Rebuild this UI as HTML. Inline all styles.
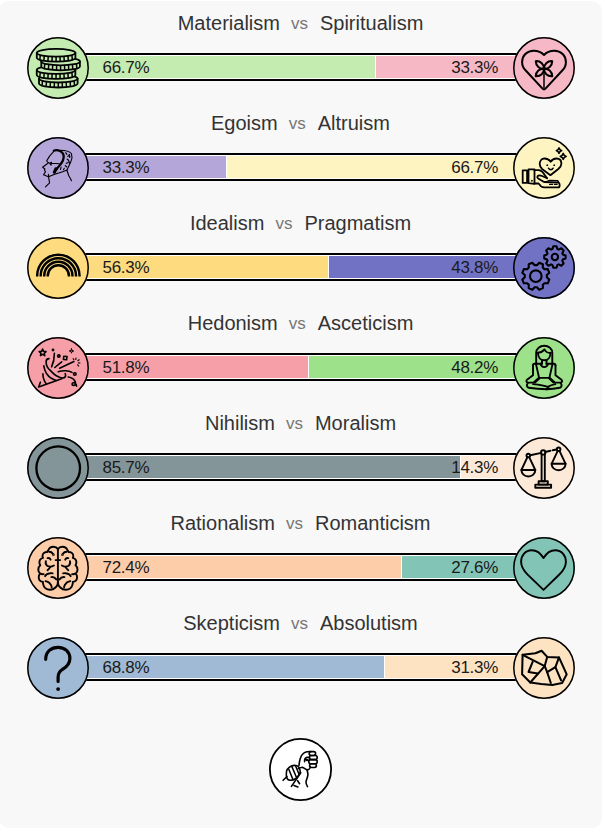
<!DOCTYPE html><html><head><meta charset="utf-8"><style>
*{box-sizing:border-box}
html,body{margin:0;padding:0;background:#fff;width:605px;height:835px;overflow:hidden}
body{font-family:"Liberation Sans",sans-serif;position:relative}
.card{position:absolute;left:-1px;top:1px;width:603px;height:827px;border-radius:10px;background:#f8f8f8}
.t{position:absolute;left:0;width:601px;text-align:center;font-size:20px;line-height:20px;color:#333;white-space:nowrap}
.t .vs{font-size:17px;color:#777;margin:0 12px 0 11px;position:relative;top:-1px}
.bar{position:absolute;left:74px;width:453px;height:28px;border:2px solid #000;background:#fff;padding:1px}
.seg{position:absolute;top:1px;height:22px}
.pl{position:absolute;font-size:17px;line-height:17px;color:#1a1a1a;letter-spacing:-0.3px}
.c{position:absolute;width:62px;height:62px;border-radius:50%}
.c svg{position:absolute;left:0;top:0;overflow:visible}
.ring{position:absolute;left:0;top:0}
</style></head><body><div class="card"></div><div class="t" style="top:13px">Materialism<span class="vs">vs</span>Spiritualism</div>
<div class="bar" style="top:53px"><div class="seg" style="left:1px;width:298px;background:#c4ecb0"></div><div class="seg" style="left:300px;right:1px;background:#f6b8c5"></div></div>
<div class="pl" style="left:102.5px;top:59px">66.7%</div>
<div class="pl" style="right:107px;top:59px">33.3%</div>
<div class="c" style="left:27px;top:37px;background:#c4ecb0"><svg class="ring" width="62" height="62"><circle cx="31" cy="31" r="30.2" fill="none" stroke="#000" stroke-width="1.5"/></svg><svg viewBox="0 0 62 62" width="62" height="62" fill="none" stroke="#000" stroke-width="1.8" stroke-linecap="round" stroke-linejoin="round"><g transform="translate(-0.7,0.2)"><path d="M12.7,41.4 A19.3,3.9 0 0 1 51.3,41.4 L51.3,46.4 A19.3,3.9 0 0 1 12.7,46.4 Z" fill="#c4ecb0"/><path d="M12.7,41.4 A19.3,3.9 0 0 0 51.3,41.4"/><line x1="16.20" y1="43.64" x2="15.72" y2="48.64" stroke-width="1.5" stroke-linecap="butt"/><line x1="20.15" y1="44.48" x2="19.79" y2="49.48" stroke-width="1.5" stroke-linecap="butt"/><line x1="24.10" y1="44.96" x2="23.86" y2="49.96" stroke-width="1.5" stroke-linecap="butt"/><line x1="28.05" y1="45.22" x2="27.93" y2="50.22" stroke-width="1.5" stroke-linecap="butt"/><line x1="32.00" y1="45.30" x2="32.00" y2="50.30" stroke-width="1.5" stroke-linecap="butt"/><line x1="35.95" y1="45.22" x2="36.07" y2="50.22" stroke-width="1.5" stroke-linecap="butt"/><line x1="39.90" y1="44.96" x2="40.14" y2="49.96" stroke-width="1.5" stroke-linecap="butt"/><line x1="43.85" y1="44.48" x2="44.21" y2="49.48" stroke-width="1.5" stroke-linecap="butt"/><line x1="47.80" y1="43.64" x2="48.28" y2="48.64" stroke-width="1.5" stroke-linecap="butt"/><path d="M10.45,32.8 A19.3,3.9 0 0 1 49.05,32.8 L49.05,37.8 A19.3,3.9 0 0 1 10.45,37.8 Z" fill="#c4ecb0"/><path d="M10.45,32.8 A19.3,3.9 0 0 0 49.05,32.8"/><line x1="13.95" y1="35.04" x2="13.47" y2="40.04" stroke-width="1.5" stroke-linecap="butt"/><line x1="17.90" y1="35.88" x2="17.54" y2="40.88" stroke-width="1.5" stroke-linecap="butt"/><line x1="21.85" y1="36.36" x2="21.61" y2="41.36" stroke-width="1.5" stroke-linecap="butt"/><line x1="25.80" y1="36.62" x2="25.68" y2="41.62" stroke-width="1.5" stroke-linecap="butt"/><line x1="29.75" y1="36.70" x2="29.75" y2="41.70" stroke-width="1.5" stroke-linecap="butt"/><line x1="33.70" y1="36.62" x2="33.82" y2="41.62" stroke-width="1.5" stroke-linecap="butt"/><line x1="37.65" y1="36.36" x2="37.89" y2="41.36" stroke-width="1.5" stroke-linecap="butt"/><line x1="41.60" y1="35.88" x2="41.96" y2="40.88" stroke-width="1.5" stroke-linecap="butt"/><line x1="45.55" y1="35.04" x2="46.03" y2="40.04" stroke-width="1.5" stroke-linecap="butt"/><path d="M14.999999999999996,24.2 A19.3,3.9 0 0 1 53.599999999999994,24.2 L53.599999999999994,29.2 A19.3,3.9 0 0 1 14.999999999999996,29.2 Z" fill="#c4ecb0"/><path d="M14.999999999999996,24.2 A19.3,3.9 0 0 0 53.599999999999994,24.2"/><line x1="18.50" y1="26.44" x2="18.02" y2="31.44" stroke-width="1.5" stroke-linecap="butt"/><line x1="22.45" y1="27.28" x2="22.09" y2="32.28" stroke-width="1.5" stroke-linecap="butt"/><line x1="26.40" y1="27.76" x2="26.16" y2="32.76" stroke-width="1.5" stroke-linecap="butt"/><line x1="30.35" y1="28.02" x2="30.23" y2="33.02" stroke-width="1.5" stroke-linecap="butt"/><line x1="34.30" y1="28.10" x2="34.30" y2="33.10" stroke-width="1.5" stroke-linecap="butt"/><line x1="38.25" y1="28.02" x2="38.37" y2="33.02" stroke-width="1.5" stroke-linecap="butt"/><line x1="42.20" y1="27.76" x2="42.44" y2="32.76" stroke-width="1.5" stroke-linecap="butt"/><line x1="46.15" y1="27.28" x2="46.51" y2="32.28" stroke-width="1.5" stroke-linecap="butt"/><line x1="50.10" y1="26.44" x2="50.58" y2="31.44" stroke-width="1.5" stroke-linecap="butt"/><path d="M10.5,15.6 A19.3,3.9 0 0 1 49.1,15.6 L49.1,20.6 A19.3,3.9 0 0 1 10.5,20.6 Z" fill="#c4ecb0"/><path d="M10.5,15.6 A19.3,3.9 0 0 0 49.1,15.6"/><line x1="14.00" y1="17.84" x2="13.52" y2="22.84" stroke-width="1.5" stroke-linecap="butt"/><line x1="17.95" y1="18.68" x2="17.59" y2="23.68" stroke-width="1.5" stroke-linecap="butt"/><line x1="21.90" y1="19.16" x2="21.66" y2="24.16" stroke-width="1.5" stroke-linecap="butt"/><line x1="25.85" y1="19.42" x2="25.73" y2="24.42" stroke-width="1.5" stroke-linecap="butt"/><line x1="29.80" y1="19.50" x2="29.80" y2="24.50" stroke-width="1.5" stroke-linecap="butt"/><line x1="33.75" y1="19.42" x2="33.87" y2="24.42" stroke-width="1.5" stroke-linecap="butt"/><line x1="37.70" y1="19.16" x2="37.94" y2="24.16" stroke-width="1.5" stroke-linecap="butt"/><line x1="41.65" y1="18.68" x2="42.01" y2="23.68" stroke-width="1.5" stroke-linecap="butt"/><line x1="45.60" y1="17.84" x2="46.08" y2="22.84" stroke-width="1.5" stroke-linecap="butt"/></g></svg></div>
<div class="c" style="left:512.5px;top:37px;background:#f6b8c5"><svg class="ring" width="62" height="62"><circle cx="31" cy="31" r="30.2" fill="none" stroke="#000" stroke-width="1.5"/></svg><svg viewBox="0 0 62 62" width="62" height="62" fill="none" stroke="#000" stroke-width="2" stroke-linecap="round" stroke-linejoin="round"><g transform="translate(0.3,0.4)"><path d="M30.7,17.6 C28,14.6 24.5,13.4 20.3,13.4 C13.6,13.4 8.8,18.3 8.8,24.5 C8.8,28 10.1,30.8 12.2,32.9 L29.2,51.2 Q30.7,52.8 32.2,51.2 L49.2,32.9 C51.3,30.8 52.6,28 52.6,24.5 C52.6,18.3 47.8,13.4 41.1,13.4 C36.9,13.4 33.4,14.6 30.7,17.6 Z"/><path d="M0,0 C2.8,-3.2 7.8,-3.6 11.2,0 C7.8,3.6 2.8,3.2 0,0 Z" transform="translate(30.7,31.3) rotate(-137.5)"/><path d="M0,0 C2.8,-3.2 7.8,-3.6 11.2,0 C7.8,3.6 2.8,3.2 0,0 Z" transform="translate(30.7,31.3) rotate(-42.5)"/><path d="M0,0 C2.8,-3.2 7.8,-3.6 11.2,0 C7.8,3.6 2.8,3.2 0,0 Z" transform="translate(30.7,31.3) rotate(42.5)"/><path d="M0,0 C2.8,-3.2 7.8,-3.6 11.2,0 C7.8,3.6 2.8,3.2 0,0 Z" transform="translate(30.7,31.3) rotate(137.5)"/><line x1="30.7" y1="31.3" x2="30.7" y2="50.5" stroke-width="1.5"/></g></svg></div>
<div class="t" style="top:113px">Egoism<span class="vs">vs</span>Altruism</div>
<div class="bar" style="top:153px"><div class="seg" style="left:1px;width:149px;background:#b4a6d9"></div><div class="seg" style="left:151px;right:1px;background:#fdf4c1"></div></div>
<div class="pl" style="left:102.5px;top:159px">33.3%</div>
<div class="pl" style="right:107px;top:159px">66.7%</div>
<div class="c" style="left:27px;top:137px;background:#b4a6d9"><svg class="ring" width="62" height="62"><circle cx="31" cy="31" r="30.2" fill="none" stroke="#000" stroke-width="1.5"/></svg><svg viewBox="0 0 62 62" width="62" height="62" fill="none" stroke="#000" stroke-width="2" stroke-linecap="round" stroke-linejoin="round"><g transform="translate(0.3,0.25)"><g stroke-width="1.1"><path d="M26.3,14.4 C23.5,17 21,20.5 19.4,23.6 L20.5,25" /><path d="M21.6,25.3 L15.3,30 L17.6,31.7 L17.2,33 L18.2,34.6 L16.2,37.5 L21.1,39.5 L27.5,36.9 C31,36 35,34.5 39.6,33"/><path d="M22.3,26 L24.2,25 L23.8,28 Z M24.2,26 L32.1,26.5"/><path d="M21.1,37 L21.7,42.7 L22.3,45.6 L18.2,49.6"/><path d="M33,13 C37,13 42,14 44.2,16.5 C45,19 44.5,22.5 43.5,24.5 C42.5,27 41.5,29 40.5,31 L39.6,33"/><path d="M39.6,33 C40.3,35 41,37 41.5,38.5 C42.5,40 43.5,42 44.2,43.5"/><path d="M33.8,29.8 L33.2,32.3 M37,31 L36.2,32.5"/><path d="M38.5,15.5 L39.5,17 M40.5,19 L41.5,18.5 M40,22 L41.2,23 M39,26 L40.5,25.5 M38,28.5 L39.3,29.5 M42,17.5 L42.5,20 M41.5,24 L42.3,26" stroke-width="1.3"/></g><path d="M26.5,13.5 C29,12.3 33,13 35,15.5 C36.8,17.5 36.5,21 35.5,23.5 C34.5,26 32,28.5 30,31 C29,32.5 28.2,33.5 27.6,34.6" stroke-width="2.3"/><path d="M28.5,31.5 L27,35" stroke-width="3"/></g></svg></div>
<div class="c" style="left:512.5px;top:137px;background:#fdf4c1"><svg class="ring" width="62" height="62"><circle cx="31" cy="31" r="30.2" fill="none" stroke="#000" stroke-width="1.5"/></svg><svg viewBox="0 0 62 62" width="62" height="62" fill="none" stroke="#000" stroke-width="2" stroke-linecap="round" stroke-linejoin="round"><g transform="translate(0.1,0.2)"><rect x="9.6" y="33.1" width="4.4" height="12.6" stroke-width="1.8"/><path d="M15.4,46 L15.4,32.2 L21.4,32.2 L21.4,46.6 Z" stroke-width="1.8"/><circle cx="18.7" cy="43.6" r="0.5" fill="#000" stroke-width="0.8"/><path d="M21.4,33 L26,33 C28.5,33.3 30,35 31.5,37.5 L34,41" stroke-width="1.8"/><path d="M34,41 L29,38.8 C27.5,38.2 25.5,37.8 24.5,39 C23.8,40 24.5,41 25.5,41.6 L30.5,44.5" stroke-width="1.8"/><path d="M21.4,46.3 L25.5,46.3 L28,49.2 C29,50 30,50.2 31.5,50.2 L45,50.2 C46,50.2 46.5,49.5 46.5,48.5 L46.5,47 C46.5,46 46,45.4 45,45.4 L31.5,44.8" stroke-width="1.8"/><path d="M32.5,44.9 L36.5,43.2 L44.5,43.5 L45.5,45.2" stroke-width="1.5"/><path d="M36.5,47.2 L39.5,47.2 M41.5,47.2 L44,47.2" stroke-width="1.3"/><path d="M37.6,24.6 C36,22.3 34,21.3 31.4,21.3 C28.2,21.3 26.6,24.2 26.6,26.8 C26.6,29 27.7,30.6 29,31.8 L37.3,38 L45.2,31.8 C46.9,30.3 48.3,29 48.3,26.6 C48.3,23.6 46.5,21.3 43.4,21.3 C40.8,21.3 39,22.3 37.6,24.6 Z" stroke-width="1.8"/><circle cx="34" cy="28" r="0.45" fill="#000" stroke-width="1"/><circle cx="41" cy="28" r="0.45" fill="#000" stroke-width="1"/><path d="M35.3,31 C36.5,33 39,33 40,31" stroke-width="1.5"/><path d="M45.9,10.7 L46.845,12.455 L48.6,13.4 L46.845,14.345 L45.9,16.1 L44.955,14.345 L43.199999999999996,13.4 L44.955,12.455 Z" stroke-width="1.6"/><path d="M50.1,16.2 L51.15,18.15 L53.1,19.2 L51.15,20.25 L50.1,22.2 L49.050000000000004,20.25 L47.1,19.2 L49.050000000000004,18.15 Z" stroke-width="1.6"/></g></svg></div>
<div class="t" style="top:213px">Idealism<span class="vs">vs</span>Pragmatism</div>
<div class="bar" style="top:253px"><div class="seg" style="left:1px;width:251px;background:#fddb7e"></div><div class="seg" style="left:253px;right:1px;background:#7272c5"></div></div>
<div class="pl" style="left:102.5px;top:259px">56.3%</div>
<div class="pl" style="right:107px;top:259px">43.8%</div>
<div class="c" style="left:27px;top:237px;background:#fddb7e"><svg class="ring" width="62" height="62"><circle cx="31" cy="31" r="30.2" fill="none" stroke="#000" stroke-width="1.5"/></svg><svg viewBox="0 0 62 62" width="62" height="62" fill="none" stroke="#000" stroke-width="2" stroke-linecap="round" stroke-linejoin="round"><g transform="translate(0.1,0.0)"><path d="M10.05,39.6 L10.05,38.9 A21.2,21.2 0 0 1 52.45,38.9 L52.45,39.6" stroke-width="2.45" stroke-linecap="butt"/><path d="M13.58,39.6 L13.58,38.9 A17.67,17.67 0 0 1 48.92,38.9 L48.92,39.6" stroke-width="2.45" stroke-linecap="butt"/><path d="M17.12,39.6 L17.12,38.9 A14.13,14.13 0 0 1 45.38,38.9 L45.38,39.6" stroke-width="2.45" stroke-linecap="butt"/><path d="M20.65,39.6 L20.65,38.9 A10.6,10.6 0 0 1 41.85,38.9 L41.85,39.6" stroke-width="2.45" stroke-linecap="butt"/></g></svg></div>
<div class="c" style="left:512.5px;top:237px;background:#7272c5"><svg class="ring" width="62" height="62"><circle cx="31" cy="31" r="30.2" fill="none" stroke="#000" stroke-width="1.5"/></svg><svg viewBox="0 0 62 62" width="62" height="62" fill="none" stroke="#000" stroke-width="2.1" stroke-linecap="round" stroke-linejoin="round"><g transform="translate(0,0)"><path d="M23.94,28.16 L26.21,25.72 L29.92,27.26 L29.80,30.59 L31.41,32.20 L34.74,32.08 L36.28,35.79 L33.84,38.06 L33.84,40.34 L36.28,42.61 L34.74,46.32 L31.41,46.20 L29.80,47.81 L29.92,51.14 L26.21,52.68 L23.94,50.24 L21.66,50.24 L19.39,52.68 L15.68,51.14 L15.80,47.81 L14.19,46.20 L10.86,46.32 L9.32,42.61 L11.76,40.34 L11.76,38.06 L9.32,35.79 L10.86,32.08 L14.19,32.20 L15.80,30.59 L15.68,27.26 L19.39,25.72 L21.66,28.16 Z"/><circle cx="22.8" cy="39.2" r="5.8"/><path d="M39.33,12.11 L40.29,9.32 L43.51,9.32 L44.47,12.11 L45.66,12.60 L48.31,11.31 L50.59,13.59 L49.30,16.24 L49.79,17.43 L52.58,18.39 L52.58,21.61 L49.79,22.57 L49.30,23.76 L50.59,26.41 L48.31,28.69 L45.66,27.40 L44.47,27.89 L43.51,30.68 L40.29,30.68 L39.33,27.89 L38.14,27.40 L35.49,28.69 L33.21,26.41 L34.50,23.76 L34.01,22.57 L31.22,21.61 L31.22,18.39 L34.01,17.43 L34.50,16.24 L33.21,13.59 L35.49,11.31 L38.14,12.60 Z"/><circle cx="41.9" cy="20.0" r="3.2"/></g></svg></div>
<div class="t" style="top:313px">Hedonism<span class="vs">vs</span>Asceticism</div>
<div class="bar" style="top:353px"><div class="seg" style="left:1px;width:231px;background:#f79fa9"></div><div class="seg" style="left:233px;right:1px;background:#9de28b"></div></div>
<div class="pl" style="left:102.5px;top:359px">51.8%</div>
<div class="pl" style="right:107px;top:359px">48.2%</div>
<div class="c" style="left:27px;top:337px;background:#f79fa9"><svg class="ring" width="62" height="62"><circle cx="31" cy="31" r="30.2" fill="none" stroke="#000" stroke-width="1.5"/></svg><svg viewBox="0 0 62 62" width="62" height="62" fill="none" stroke="#000" stroke-width="1.6" stroke-linecap="round" stroke-linejoin="round"><g transform="translate(0.4,0.4)"><path d="M21.6,21.2 C20,21.2 18.7,22 18.7,24.5 C18.7,27 20,30.5 22.9,33 C25.5,35.8 28,38 30,38.9 C31.5,39.8 33.5,40.6 34.8,40.6 C37,40.6 38.2,39.5 38.2,38 C38.2,37.2 38,36.6 37.8,36.3"/><path d="M16.4,28.4 C16.8,31 17.5,33.5 18.9,35.8 C20.5,38.2 22,39.8 23.9,40.8 C25.5,41.8 27,42.5 28.8,43"/><path d="M15.5,36.3 C15.5,38.5 15.8,40.2 16.4,41.8 C17,43.5 17.8,45 18.7,46.3"/><path d="M13,44.8 L11.2,49.6 L34.3,41.3"/><path d="M15.20,11.70 L16.20,13.92 L18.62,14.19 L16.82,15.83 L17.32,18.21 L15.20,17.00 L13.08,18.21 L13.58,15.83 L11.78,14.19 L14.20,13.92 Z"/><circle cx="25.6" cy="12.6" r="0.6" fill="#000"/><path d="M27,15.8 C27,21 26,25.5 24.2,29.4"/><circle cx="31.4" cy="18.5" r="1.2"/><rect x="36.2" y="19" width="3.2" height="3.2" transform="rotate(8 37.8 20.6)"/><path d="M44.1,11.4 L44.6,13.1 L46.3,13.6 L44.6,14.1 L44.1,15.8 L43.6,14.1 L41.9,13.6 L43.6,13.1 Z" stroke-width="1"/><path d="M27.4,30.1 L34.3,24.4"/><path d="M32.2,30.8 L46.5,24.2"/><path d="M48.4,22 L48.6,20.6 M50.6,23.2 L51.8,22.4 M51,25.4 L52.5,25.6 M50.3,27.4 L51.2,28.6 M46.5,22.4 L45.8,21.3" stroke-width="1.2"/><path d="M30.8,34.4 C33,33.6 36,33.3 38.5,33.4 C41,33.6 43,34.2 44.6,35"/><circle cx="47.4" cy="36.6" r="1.3"/><path d="M40.8,39.6 C43.8,40.1 46.8,41.7 47.9,44.4 C48.6,46.4 47.8,48.2 46,48 C44.3,47.8 44.2,45.6 45.8,45.3 C47.4,45 48.9,46.5 49.2,48.7"/></g></svg></div>
<div class="c" style="left:512.5px;top:337px;background:#9de28b"><svg class="ring" width="62" height="62"><circle cx="31" cy="31" r="30.2" fill="none" stroke="#000" stroke-width="1.5"/></svg><svg viewBox="0 0 62 62" width="62" height="62" fill="none" stroke="#000" stroke-width="1.9" stroke-linecap="round" stroke-linejoin="round"><g transform="translate(0.1,0.2)"><path d="M23.1,26.6 L23.1,15.8 C23.1,11.2 26.8,8.6 31.15,8.6 C35.5,8.6 39.2,11.2 39.2,15.8 L39.2,26.6"/><path d="M24.9,15.6 C24.9,20.5 27.6,23.1 31.15,23.1 C34.7,23.1 37.4,20.5 37.4,15.6"/><path d="M24.9,15.6 C27.5,15.4 30,14 31.5,12.3 C32.3,14.2 34.5,15.8 37.4,15.8"/><path d="M28.9,23 L28.9,26.6 M33.4,23 L33.4,26.6"/><path d="M27.3,26.6 C28,28.9 29.5,29.9 31.15,29.9 C32.8,29.9 34.3,28.9 35,26.6"/><path d="M19.9,28.2 C19.9,27.2 20.5,26.6 21.4,26.6 L28.9,26.6 M33.4,26.6 L40.9,26.6 C41.8,26.6 42.4,27.2 42.4,28.2"/><path d="M22.9,26.9 L26,40.7 L36.3,40.7 L39.4,26.9"/><path d="M19.9,28.2 L19.9,38.1 L14.2,42.3 C12.8,43.3 13,45.2 14.9,45.4 L20.3,45.4 L25.3,40.9 M21.9,45.3 L26.4,41.2"/><path d="M42.4,28.2 L42.4,38.1 L48.1,42.3 C49.5,43.3 49.3,45.2 47.4,45.4 L42,45.4 L37,40.9 M40.4,45.3 L35.9,41.2"/><path d="M14.6,46.2 C13.3,47.3 13.5,49.8 15.6,50.6 C22,51.6 28,52 33.4,52 C35.5,51.8 36,50.6 34.8,49.8 C31,48.2 25,47.4 20,46.9"/><path d="M47.7,46.2 C49,47.3 48.8,49.8 46.7,50.6 C42,51.6 38,52 33.4,52 M42.3,46.9 C39,47.5 36.5,48.5 34.8,49.6"/></g></svg></div>
<div class="t" style="top:413px">Nihilism<span class="vs">vs</span>Moralism</div>
<div class="bar" style="top:453px"><div class="seg" style="left:1px;width:383px;background:#849599"></div><div class="seg" style="left:385px;right:1px;background:#fde9d8"></div></div>
<div class="pl" style="left:102.5px;top:459px">85.7%</div>
<div class="pl" style="right:107px;top:459px">14.3%</div>
<div class="c" style="left:27px;top:437px;background:#849599"><svg class="ring" width="62" height="62"><circle cx="31" cy="31" r="30.2" fill="none" stroke="#000" stroke-width="1.5"/></svg><svg viewBox="0 0 62 62" width="62" height="62" fill="none" stroke="#000" stroke-width="2" stroke-linecap="round" stroke-linejoin="round"><g transform="translate(0.2,0.2)"><circle cx="31" cy="31" r="21.8" stroke-width="2.3"/></g></svg></div>
<div class="c" style="left:512.5px;top:437px;background:#fde9d8"><svg class="ring" width="62" height="62"><circle cx="31" cy="31" r="30.2" fill="none" stroke="#000" stroke-width="1.5"/></svg><svg viewBox="0 0 62 62" width="62" height="62" fill="none" stroke="#000" stroke-width="1.9" stroke-linecap="round" stroke-linejoin="round"><g transform="translate(0,0)"><circle cx="30.2" cy="15.4" r="2.2"/><path d="M17.2,18.3 L28.3,15.9"/><path d="M32.1,15 L37.5,13.8"/><path d="M39.7,13.3 L43.6,12.5"/><circle cx="15.3" cy="18.6" r="1.8"/><circle cx="45.6" cy="12.3" r="1.8"/><path d="M14.4,20.2 L8.4,33 L22.3,33 L16.2,20.2"/><path d="M8.4,33 A6.95,6.5 0 0 0 22.3,33"/><path d="M44.7,13.9 L38.6,26.8 L52.6,26.8 L46.5,13.9"/><path d="M38.6,26.8 A7,6.5 0 0 0 52.6,26.8"/><path d="M28.6,17.3 L28.6,44.3 L31.8,44.3 L31.8,17.3"/><rect x="25.6" y="44.3" width="9.2" height="3.3"/><rect x="22.3" y="47.6" width="15.8" height="3.2"/></g></svg></div>
<div class="t" style="top:513px">Rationalism<span class="vs">vs</span>Romanticism</div>
<div class="bar" style="top:553px"><div class="seg" style="left:1px;width:324px;background:#fdcdaa"></div><div class="seg" style="left:326px;right:1px;background:#82c5b6"></div></div>
<div class="pl" style="left:102.5px;top:559px">72.4%</div>
<div class="pl" style="right:107px;top:559px">27.6%</div>
<div class="c" style="left:27px;top:537px;background:#fdcdaa"><svg class="ring" width="62" height="62"><circle cx="31" cy="31" r="30.2" fill="none" stroke="#000" stroke-width="1.5"/></svg><svg viewBox="0 0 62 62" width="62" height="62" fill="none" stroke="#000" stroke-width="1.9" stroke-linecap="round" stroke-linejoin="round"><g transform="translate(0.1,0.9)"><path d="M30.8,11.2 C29.8,9.6 28,8.9 26.3,8.9 C24,8.9 22,10.2 21,12.6 C20.5,13.4 20.2,13.9 20,14.1 C17.6,14 15.6,15.6 15.4,17.8 C15.3,18.6 15.5,19.4 15.9,20 C13.5,20.6 12.3,22.6 12.3,24.6 C12.3,25.7 12.7,26.6 13.2,27.3 C11.9,28.3 11.2,30 11.2,31.8 C11.2,33.4 12,34.9 13,35.7 C12,36.7 11.5,38.1 11.6,39.6 C11.8,41.9 13.6,43.7 15.9,44 C15.8,44.6 15.9,45.4 16,46 C16.6,49.6 19.5,51.9 22.8,51.9 C25,51.9 27,51 28.4,49.6 C29.9,48.2 30.8,46.2 30.8,44.5"/><path d="M22,13.8 C23.5,13.8 25,14.5 25.8,15.8" /><circle cx="26.3" cy="16.8" r="0.35" fill="#000"/><path d="M20.4,20.2 C21.6,19.9 23,20.6 23.5,21.8" /><path d="M18.8,23.2 C18.4,24.6 18.6,26.8 20,27.8 C22,29 24.8,28.8 26.8,27.6"/><path d="M20.4,32.3 C21.6,31.3 22.6,30.3 23.3,29"/><path d="M13.4,35.8 C14.5,36.3 15.6,36.4 16.6,36.2"/><path d="M18,38.3 C18.6,36.8 20.8,35.6 23,35.3 C24,35.1 25,35.2 25.6,35.4"/><path d="M24.3,39.2 C26,39 28,39.8 29.2,41.5"/><path d="M18.4,43.2 C20.6,43.4 22.6,44.7 23.6,46.7 C24.2,47.7 24.6,48.5 24.6,49.4"/><path d="M28.5,22.2 L30.8,22.2"/><line x1="30.8" y1="11.2" x2="30.8" y2="45"/><g transform="matrix(-1,0,0,1,61.6,0)"><path d="M30.8,11.2 C29.8,9.6 28,8.9 26.3,8.9 C24,8.9 22,10.2 21,12.6 C20.5,13.4 20.2,13.9 20,14.1 C17.6,14 15.6,15.6 15.4,17.8 C15.3,18.6 15.5,19.4 15.9,20 C13.5,20.6 12.3,22.6 12.3,24.6 C12.3,25.7 12.7,26.6 13.2,27.3 C11.9,28.3 11.2,30 11.2,31.8 C11.2,33.4 12,34.9 13,35.7 C12,36.7 11.5,38.1 11.6,39.6 C11.8,41.9 13.6,43.7 15.9,44 C15.8,44.6 15.9,45.4 16,46 C16.6,49.6 19.5,51.9 22.8,51.9 C25,51.9 27,51 28.4,49.6 C29.9,48.2 30.8,46.2 30.8,44.5"/><path d="M22,13.8 C23.5,13.8 25,14.5 25.8,15.8" /><circle cx="26.3" cy="16.8" r="0.35" fill="#000"/><path d="M20.4,20.2 C21.6,19.9 23,20.6 23.5,21.8" /><path d="M18.8,23.2 C18.4,24.6 18.6,26.8 20,27.8 C22,29 24.8,28.8 26.8,27.6"/><path d="M20.4,32.3 C21.6,31.3 22.6,30.3 23.3,29"/><path d="M13.4,35.8 C14.5,36.3 15.6,36.4 16.6,36.2"/><path d="M18,38.3 C18.6,36.8 20.8,35.6 23,35.3 C24,35.1 25,35.2 25.6,35.4"/><path d="M24.3,39.2 C26,39 28,39.8 29.2,41.5"/><path d="M18.4,43.2 C20.6,43.4 22.6,44.7 23.6,46.7 C24.2,47.7 24.6,48.5 24.6,49.4"/><path d="M28.5,22.2 L30.8,22.2"/></g></g></svg></div>
<div class="c" style="left:512.5px;top:537px;background:#82c5b6"><svg class="ring" width="62" height="62"><circle cx="31" cy="31" r="30.2" fill="none" stroke="#000" stroke-width="1.5"/></svg><svg viewBox="0 0 62 62" width="62" height="62" fill="none" stroke="#000" stroke-width="1.9" stroke-linecap="round" stroke-linejoin="round"><g transform="translate(-0.1,0.3)"><path d="M30.6,20.8 C27.5,15.5 23.5,12.9 18.8,12.9 C12.5,12.9 8.2,18 8.2,24.5 C8.2,30 11,33.5 14.5,37 L30.6,52.6 L46.7,37 C50.2,33.5 53,30 53,24.5 C53,18 48.7,12.9 42.4,12.9 C37.7,12.9 33.7,15.5 30.6,20.8 Z"/></g></svg></div>
<div class="t" style="top:613px">Skepticism<span class="vs">vs</span>Absolutism</div>
<div class="bar" style="top:653px"><div class="seg" style="left:1px;width:307px;background:#a0bad5"></div><div class="seg" style="left:309px;right:1px;background:#fde3c1"></div></div>
<div class="pl" style="left:102.5px;top:659px">68.8%</div>
<div class="pl" style="right:107px;top:659px">31.3%</div>
<div class="c" style="left:27px;top:637px;background:#a0bad5"><svg class="ring" width="62" height="62"><circle cx="31" cy="31" r="30.2" fill="none" stroke="#000" stroke-width="1.5"/></svg><svg viewBox="0 0 62 62" width="62" height="62" fill="none" stroke="#000" stroke-width="2" stroke-linecap="round" stroke-linejoin="round"><g transform="translate(0.3,0.5)"><path d="M18.4,21.8 C18.4,14 24,9.8 30.8,9.8 C37.6,9.8 42.6,14.5 42.6,21 C42.6,27 38.5,30 35,32 C32,34 30.8,36 30.8,39.5 L30.8,44" stroke-width="3.2"/><circle cx="30.8" cy="51.6" r="1.9" fill="#000" stroke="none"/></g></svg></div>
<div class="c" style="left:512.5px;top:637px;background:#fde3c1"><svg class="ring" width="62" height="62"><circle cx="31" cy="31" r="30.2" fill="none" stroke="#000" stroke-width="1.5"/></svg><svg viewBox="0 0 62 62" width="62" height="62" fill="none" stroke="#000" stroke-width="2.05" stroke-linecap="round" stroke-linejoin="round"><g transform="translate(0.4,0.4)"><path d="M9.2,17.4 L22,15.9 L28.2,13.3 L33.8,19.5 L45.6,20 L53.3,36.9 L48.7,45.6 L38.9,47.7 L27.7,46.6 L16.9,45.1 L8.7,36.9 Z"/><path d="M9.2,17.4 L31.3,28.7 L33.8,19.5"/><path d="M31.3,28.7 L16.9,45.1"/><path d="M31.3,28.7 L33.8,34.8 L37.4,45.6"/><path d="M33.8,34.8 L42,29.7 L45.6,20"/><path d="M42,29.7 L47.7,43"/><path d="M19.25,24.5 L15.15,34.6 L24.3,36.2"/></g></svg></div>
<div class="c" style="left:269px;top:738px;width:63px;height:63px;background:#fff"><svg class="ring" width="63" height="63"><circle cx="31.5" cy="31.5" r="30.6" fill="none" stroke="#000" stroke-width="1.8"/></svg><svg viewBox="0 0 63 63" width="63" height="63" fill="none" stroke="#000" stroke-width="1.6" stroke-linecap="round" stroke-linejoin="round"><g transform="translate(0,0)"><path d="M30,27.4 C30.2,25 30.6,22.8 31.2,20.8 C31.8,18.8 32.5,17.3 33.5,16.3 C34.5,15.2 35.6,14.4 36.9,14 C38.5,13.5 40.2,13.4 41.8,13.6"/><rect x="40.2" y="13.6" width="6.4" height="3.9" rx="1.9"/><rect x="40.4" y="17.5" width="7.8" height="4.1" rx="2"/><rect x="39.8" y="21.6" width="8.4" height="4.1" rx="2"/><rect x="40.6" y="25.7" width="6.8" height="3.8" rx="1.9"/><path d="M35.6,23.6 C35.4,21.6 36.3,19.8 37.9,19.4 C39,19.1 40,19.4 40.6,20 M37.2,21.8 L40,22.6" /><circle cx="38" cy="22" r="1.3" fill="#000" stroke="none"/><path d="M29.2,30.6 C30.6,29.8 32,29.2 33.3,29.2 C34.6,29.5 35.8,30.6 37,31.3 C38.5,32 40,32.2 41.2,29.5"/><path d="M38.1,32.2 C38.6,33.8 39,35.5 38.9,37.1 C38.6,39.5 37.5,41.5 37,43.6 C36.9,45.5 37.6,47.2 38.5,48.6"/><path d="M18.2,31.4 C19.4,29.8 20.8,28.6 22.4,27.9 C23.8,27.4 25.5,27.3 26.9,27.5 C28.2,27.7 29.4,28.5 30.1,29.6 C30.8,30.9 31.2,32.4 31.3,34 C30.3,36.5 28.8,38.8 26.9,40.5 C25.2,41.8 23,42.4 20.9,42.3 C19.3,42.1 18.1,41 17.7,39.4 C17.3,37.8 17.2,36 17.4,34.4 C17.5,33.3 17.8,32.3 18.2,31.4 Z"/><path d="M19.8,31.3 L24,41.6 M22.9,28.6 L27.5,39.5 M26.6,28 L30.1,36.4" stroke-width="1.5"/><path d="M14.1,42.3 L18,38.5"/><path d="M22.4,48.4 L31.8,34.9"/><path d="M25,47.4 L28.9,48.9 M28.6,42.7 L30.6,45.7"/></g></svg></div></body></html>
